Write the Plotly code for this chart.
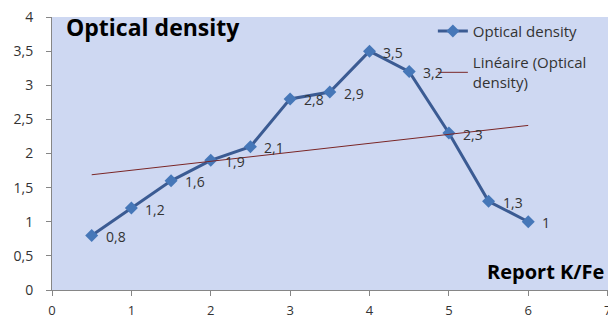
import numpy as np
import plotly.graph_objects as go

# K/Fe ratio vs. measured optical density
ratio = [0.5, 1, 1.5, 2, 2.5, 3, 3.5, 4, 4.5, 5, 5.5, 6]
density = [0.8, 1.2, 1.6, 1.9, 2.1, 2.8, 2.9, 3.5, 3.2, 2.3, 1.3, 1.0]
y_ticks = [0, 0.5, 1, 1.5, 2, 2.5, 3, 3.5, 4]
x_ticks = [0, 1, 2, 3, 4, 5, 6, 7]

FONT = "Open Sans"
labels = [f"{v:g}".replace(".", ",") for v in density]

# least-squares linear trend over the measured range
slope, intercept = np.polyfit(ratio, density, 1)
trend_x = [ratio[0], ratio[-1]]
trend_y = [slope * x + intercept for x in trend_x]

fig = go.Figure()
fig.add_trace(go.Scatter(
    x=ratio, y=density, mode="lines+markers",
    name="Optical density", legendgroup="a",
    line=dict(color="#3B5B93", width=3),
    marker=dict(symbol="diamond", size=10, color="#4677B8"),
))
fig.add_trace(go.Scatter(
    x=trend_x, y=trend_y, mode="lines",
    name="Linéaire (Optical<br>density)", legendgroup="b",
    line=dict(color="#7A2626", width=1),
))

# value labels to the right of each point
annotations = [
    dict(x=x, y=y, text=t, xref="x", yref="y", showarrow=False,
         xanchor="left", yanchor="middle", xshift=12, yshift=-1,
         font=dict(family=FONT, size=14, color="#333333"))
    for x, y, t in zip(ratio, density, labels)
]
annotations += [
    dict(text="<b>Optical density</b>", xref="paper", yref="paper",
         x=0.022, y=0.965, xanchor="left", yanchor="middle", showarrow=False,
         font=dict(family=FONT, size=23, color="black")),
    dict(text="<b>Report K/Fe</b>", xref="paper", yref="paper",
         x=0.996, y=0.066, xanchor="right", yanchor="middle", showarrow=False,
         font=dict(family=FONT, size=20, color="black")),
]

fig.update_layout(
    width=608, height=320,
    margin=dict(l=52, r=0, t=17, b=30, autoexpand=False),
    paper_bgcolor="white",
    plot_bgcolor="#CED8F2",
    separators=", ",
    font=dict(family=FONT, size=14, color="#333333"),
    showlegend=True,
    legend=dict(
        x=0.685, y=1.008, xanchor="left", yanchor="top",
        bgcolor="rgba(0,0,0,0)", font=dict(family=FONT, size=15, color="#333333"),
        traceorder="grouped", tracegroupgap=9,
    ),
    annotations=annotations,
)
fig.update_xaxes(
    range=[0, 7.005], tickvals=x_ticks, ticktext=[str(t) for t in x_ticks],
    tickfont=dict(family=FONT, size=13, color="#333333"),
    showgrid=False, zeroline=False, automargin=False,
    showline=True, linecolor="#868686", linewidth=1,
    ticks="outside", ticklen=5, tickcolor="#868686",
    ticklabelstandoff=3, ticklabeloverflow="allow",
)
fig.update_yaxes(
    range=[0, 4], tickvals=y_ticks,
    ticktext=[f"{t:g}".replace(".", ",") for t in y_ticks],
    showgrid=False, zeroline=False, automargin=False,
    showline=True, linecolor="#868686", linewidth=1,
    ticks="outside", ticklen=5, tickcolor="#868686",
    ticklabelstandoff=10,
)

fig.write_html("out.html")
